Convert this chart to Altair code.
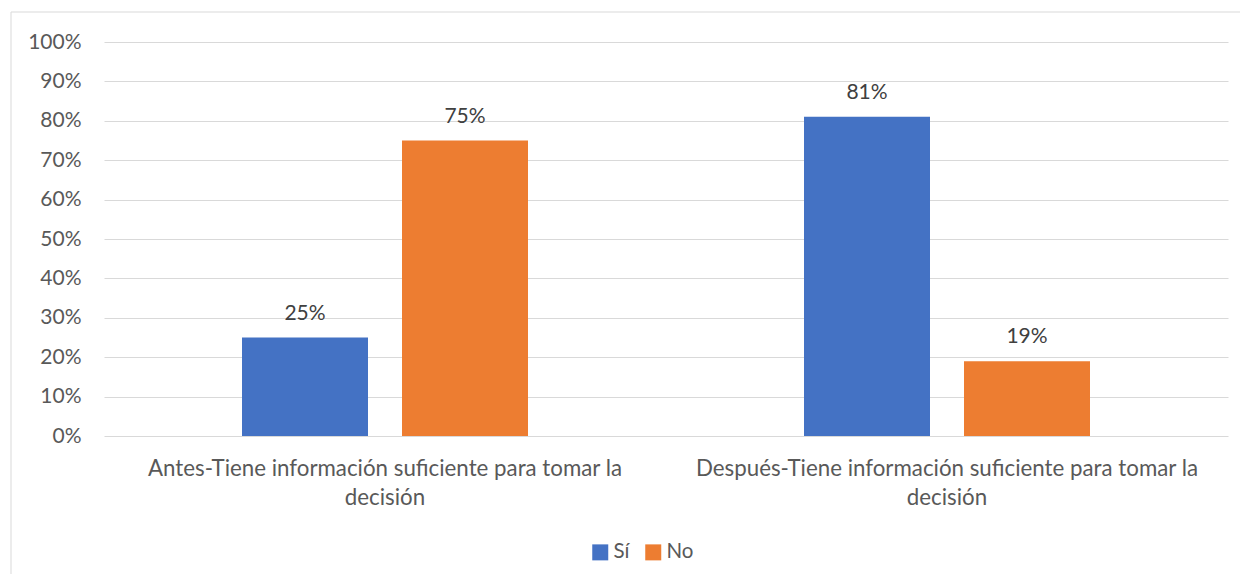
import altair as alt
import pandas as pd

categorias = [
    "Antes-Tiene información suficiente para tomar la decisión",
    "Después-Tiene información suficiente para tomar la decisión",
]
series = ["Sí", "No"]
valores_si = [0.25, 0.81]
valores_no = [0.75, 0.19]
colores = ["#4472C4", "#ED7D31"]
y_ticks = [0.0, 0.1, 0.2, 0.3, 0.4, 0.5, 0.6, 0.7, 0.8, 0.9, 1.0]

rows = []
for i, c in enumerate(categorias):
    rows.append({"cat": c, "serie": series[0], "valor": valores_si[i]})
    rows.append({"cat": c, "serie": series[1], "valor": valores_no[i]})
df = pd.DataFrame(rows)

FONT = "Lato"
W, H = 1124, 394

x_enc = alt.X(
    "cat:N",
    sort=categorias,
    scale=alt.Scale(paddingInner=0, paddingOuter=0),
    axis=alt.Axis(
        title=None,
        labelAngle=0,
        labelExpr="[slice(datum.label, 0, lastindexof(datum.label, ' ')), slice(datum.label, lastindexof(datum.label, ' ') + 1)]",
        labelFont=FONT,
        labelFontSize=22.3,
        labelColor="#595959",
        labelLineHeight=29,
        labelPadding=21,
        labelLimit=0,
        ticks=False,
        domain=False,
        grid=False,
    ),
)
xoff_enc = alt.XOffset(
    "serie:N",
    sort=series,
    scale=alt.Scale(paddingInner=0.2125, paddingOuter=0.8625),
)
y_enc = alt.Y(
    "valor:Q",
    scale=alt.Scale(domain=[0, 1]),
    axis=alt.Axis(
        title=None,
        values=y_ticks,
        format=".0%",
        labelFont=FONT,
        labelFontSize=21,
        labelColor="#595959",
        labelPadding=23,
        labelOverlap=False,
        ticks=False,
        domain=False,
        grid=True,
        gridColor="#d9d9d9",
        gridWidth=1,
    ),
)

bars = alt.Chart(df).mark_bar().encode(
    x=x_enc,
    xOffset=xoff_enc,
    y=y_enc,
    color=alt.Color(
        "serie:N",
        sort=series,
        scale=alt.Scale(domain=series, range=colores),
        legend=alt.Legend(
            title=None,
            orient="none",
            direction="horizontal",
            legendX=486,
            legendY=500,
            symbolType="square",
            symbolSize=256,
            symbolStrokeWidth=0,
            labelFont=FONT,
            labelFontSize=20.5,
            labelColor="#595959",
            labelOffset=3,
            columnPadding=13,
        ),
    ),
)

labels = alt.Chart(df).mark_text(
    font=FONT, fontSize=21, color="#404040", baseline="alphabetic", dy=-18
).encode(
    x=x_enc,
    xOffset=xoff_enc,
    y=y_enc,
    text=alt.Text("valor:Q", format=".0%"),
)

frame = alt.Chart(pd.DataFrame({"a": [0]})).mark_rect(
    fill="transparent", stroke="#d9d9d9", strokeWidth=1
).encode(
    x=alt.value(-93), x2=alt.value(1200), y=alt.value(-30), y2=alt.value(700)
)

chart = (
    alt.layer(frame, bars, labels)
    .properties(
        width=W,
        height=H,
        autosize=alt.AutoSizeParams(type="none"),
        padding={"left": 96, "top": 34, "right": 12, "bottom": 138},
    )
    .configure(background="white")
    .configure_view(stroke="transparent")
)

chart.save("out.html", embed_options={"renderer": "svg", "actions": False})
